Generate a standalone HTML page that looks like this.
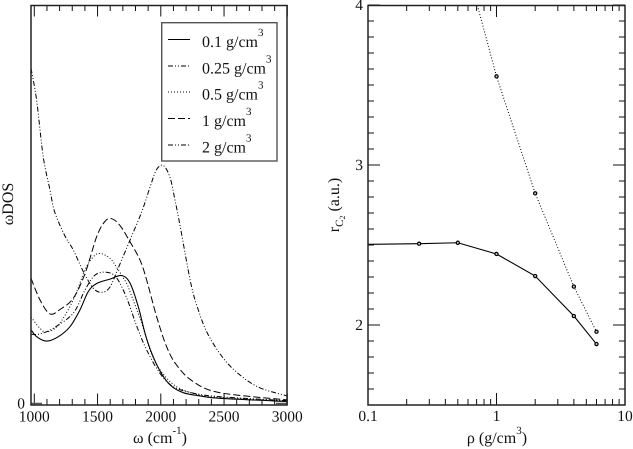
<!DOCTYPE html>
<html lang="en">
<head>
<meta charset="utf-8">
<title>Vibrational density of states and C2 bond length versus density</title>
<style>
  html, body { margin: 0; padding: 0; background: #fff; }
  svg { display: block; }
  text { font-family: "Liberation Serif", serif; fill: #111; text-rendering: geometricPrecision; }
</style>
</head>
<body>
<svg id="chart" xmlns="http://www.w3.org/2000/svg" width="633" height="449" viewBox="0 0 633 449">
  <defs>
    <clipPath id="clip-left"><rect x="31" y="5" width="256" height="400"/></clipPath>
    <clipPath id="clip-right"><rect x="368" y="5" width="257" height="400"/></clipPath>
  </defs>
  <g id="left-panel"></g>
  <g id="right-panel"></g>

  <text transform="translate(13 204) rotate(-90)" text-anchor="middle" font-size="16">ωDOS</text>
  <text x="160" y="443" text-anchor="middle" font-size="16">ω (cm<tspan font-size="11" dy="-9">-1</tspan><tspan dy="9">)</tspan></text>
  <text transform="translate(339 205) rotate(-90)" text-anchor="middle" font-size="16">r<tspan font-size="11" dy="4">C</tspan><tspan font-size="8" dy="2">2</tspan><tspan dy="-6"> (a.u.)</tspan></text>
  <text x="497" y="443" text-anchor="middle" font-size="16">ρ (g/cm<tspan font-size="11" dy="-9">3</tspan><tspan dy="9">)</tspan></text>

  <g id="legend">
    <rect x="161.7" y="22.7" width="115.3" height="138.3" fill="#fff" stroke="#555" stroke-width="1.4"/>
  </g>
</svg>

<script>
// ---- Left panel data: omega axis and DOS series (arbitrary units) ----
const dosLabels = ['0.1 g/cm', '0.25 g/cm', '0.5 g/cm', '1 g/cm', '2 g/cm'];
const dosOmega01 = [966, 1019, 1098, 1190, 1282, 1361, 1427, 1493, 1598, 1691, 1757, 1822, 1875, 1928, 1996, 2075, 2178, 2310, 2468, 3000];
const dosValue01 = [18.8, 16.7, 15.6, 16.7, 19.2, 23.4, 28, 30, 31.1, 32, 30.1, 24.2, 17.6, 12.6, 8, 4.6, 2.7, 1.9, 1.3, 0.5];
const dosOmega025 = [974, 1045, 1150, 1308, 1401, 1480, 1572, 1651, 1730, 1809, 1888, 1994, 2099, 2255, 2468, 3000];
const dosValue025 = [17.3, 17.4, 18.8, 22.6, 28.4, 32.1, 32.8, 31.4, 26.4, 19.4, 13.4, 7.5, 4.2, 2.6, 1.7, 0.7];
const dosOmega05 = [974, 1045, 1098, 1190, 1308, 1401, 1467, 1520, 1598, 1664, 1730, 1757, 1849, 1915, 1994, 2125, 2310, 2468, 3000];
const dosValue05 = [21.6, 18.8, 17.9, 19.6, 25.9, 33.4, 36.7, 37.5, 36.3, 33.4, 30, 27.9, 20.1, 13.4, 8.4, 4.2, 2.1, 1.5, 0.6];
const dosOmega1 = [974, 1045, 1124, 1203, 1308, 1401, 1493, 1558, 1612, 1680, 1757, 1835, 1888, 1967, 2046, 2125, 2255, 2468, 3000];
const dosValue1 = [31.3, 25.9, 22.4, 23.5, 26.3, 32.5, 41.7, 45.5, 46.2, 44.4, 40.4, 35.9, 30.9, 21.7, 14.2, 9.6, 5.5, 2.7, 0.9];
const dosOmega2 = [974, 1018, 1071, 1124, 1160, 1239, 1308, 1387, 1467, 1533, 1598, 1664, 1757, 1849, 1913, 1965, 2020, 2073, 2112, 2152, 2205, 2244, 2284, 2363, 2492, 2627, 2785, 3000];
const dosValue2 = [83.8, 75.9, 61.6, 53.4, 48, 42.1, 38.4, 33, 28.8, 27.8, 29.1, 33.9, 40.9, 47.9, 53.9, 58.4, 59.5, 56.5, 50.9, 44.5, 35.3, 29.1, 24.6, 17.9, 11.4, 7.1, 3.9, 1.9];
const dosXTicks = [1000, 1500, 2000, 2500, 3000];
const dosYTicks = [0];

// ---- Right panel data ----
const rhoSolid = [0.1, 0.25, 0.5, 1, 2, 4, 6];
const rcSolid = [2.504, 2.508, 2.514, 2.444, 2.306, 2.056, 1.881];
const rhoDotted = [0.5, 1, 2, 4, 6];
const rcDotted = [4.45, 3.554, 2.823, 2.24, 1.958];
const rhoXTicks = [0.1, 1, 10];
const rcYTicks = [2, 3, 4];

const SVG_NS = 'http://www.w3.org/2000/svg';
const DASH_SOLID = '';
const DASH_DDOT = '5 2 1 2 1 2';
const DASH_DOT = '1 2';
const DASH_LONG = '7 3';

// Axis functions
function xDos(w) { return 34.3 + (w - 1000) * 253 / 2000; }
function yDos(v) { return 403.5 - v * 4; }
function xRho(r) { return 368 + (Math.log10(r) + 1) * 128.5; }
function yRc(v) { return 5 + (4 - v) * 160; }

function make(parent, tag, attrs) {
  const el = document.createElementNS(SVG_NS, tag);
  for (const k in attrs) el.setAttribute(k, attrs[k]);
  parent.appendChild(el);
  return el;
}

// Smooth path through points (Catmull-Rom)
function smoothPath(pts) {
  let d = 'M' + pts[0][0].toFixed(2) + ' ' + pts[0][1].toFixed(2);
  for (let i = 0; i < pts.length - 1; i++) {
    const p0 = pts[Math.max(i - 1, 0)];
    const p1 = pts[i];
    const p2 = pts[i + 1];
    const p3 = pts[Math.min(i + 2, pts.length - 1)];
    const c1x = p1[0] + (p2[0] - p0[0]) / 6;
    const c1y = p1[1] + (p2[1] - p0[1]) / 6;
    const c2x = p2[0] - (p3[0] - p1[0]) / 6;
    const c2y = p2[1] - (p3[1] - p1[1]) / 6;
    d += 'C' + c1x.toFixed(2) + ' ' + c1y.toFixed(2) + ' ' + c2x.toFixed(2) + ' ' + c2y.toFixed(2) + ' ' + p2[0].toFixed(2) + ' ' + p2[1].toFixed(2);
  }
  return d;
}

// ---- Left panel ----
const left = document.getElementById('left-panel');
const dosSeries = [
  { xs: dosOmega2, ys: dosValue2, dash: DASH_DDOT, w: 1, name: 'dos-curve-2' },
  { xs: dosOmega1, ys: dosValue1, dash: DASH_LONG, w: 1, name: 'dos-curve-1' },
  { xs: dosOmega05, ys: dosValue05, dash: DASH_DOT, w: 1, name: 'dos-curve-0-5' },
  { xs: dosOmega025, ys: dosValue025, dash: DASH_DDOT, w: 1, name: 'dos-curve-0-25' },
  { xs: dosOmega01, ys: dosValue01, dash: DASH_SOLID, w: 1.1, name: 'dos-curve-0-1' }
];
const leftCurves = make(left, 'g', { 'clip-path': 'url(#clip-left)' });


dosSeries.forEach(function (s) {
  const pts = s.xs.map(function (x, i) { return [xDos(x), yDos(s.ys[i])]; });
  const p = make(leftCurves, 'path', { d: smoothPath(pts), fill: 'none', stroke: '#000', 'stroke-width': s.w });
  if (s.dash) p.setAttribute('stroke-dasharray', s.dash);
  
  
});

const leftTicks = make(left, 'g', { stroke: '#111', 'stroke-width': 1 });


for (let w = 1000; w <= 3000; w += 100) {
  const major = (w % 500 === 0);
  const len = major ? 11.5 : 6;
  const x = xDos(w);
  make(leftTicks, 'line', { x1: x, x2: x, y1: 5, y2: 5 + len });
  make(leftTicks, 'line', { x1: x, x2: x, y1: 405, y2: 405 - len });
}
dosYTicks.forEach(function (v) {
  const y = yDos(v);
  make(leftTicks, 'line', { x1: 31, x2: 42, y1: y, y2: y, stroke: '#555', 'stroke-width': 1.5 });
  make(leftTicks, 'line', { x1: 287, x2: 276, y1: y, y2: y, stroke: '#555', 'stroke-width': 1.5 });
  const t = make(left, 'text', { x: 25, y: y + 5, 'text-anchor': 'end', 'font-size': 15.5 });
  t.textContent = String(v);
  
  
});
dosXTicks.forEach(function (w) {
  const t = make(left, 'text', { x: xDos(w), y: 421.5, 'text-anchor': 'middle', 'font-size': 15.5 });
  t.textContent = String(w);
  
  
});
const leftFrame = make(left, 'rect', { x: 31, y: 5.5, width: 256, height: 399.5, fill: 'none', stroke: '#222', 'stroke-width': 1.5 });



// ---- Right panel ----
const right = document.getElementById('right-panel');
const rightMarks = make(right, 'g', { 'clip-path': 'url(#clip-right)' });



const solidLine = make(rightMarks, 'polyline', {
  points: rhoSolid.map(function (r, i) { return xRho(r).toFixed(2) + ',' + yRc(rcSolid[i]).toFixed(2); }).join(' '),
  fill: 'none', stroke: '#000', 'stroke-width': 1.1
});


const dottedLine = make(rightMarks, 'polyline', {
  points: rhoDotted.map(function (r, i) { return xRho(r).toFixed(2) + ',' + yRc(rcDotted[i]).toFixed(2); }).join(' '),
  fill: 'none', stroke: '#000', 'stroke-width': 1, 'stroke-dasharray': '1 2'
});



rhoSolid.forEach(function (r, i) {
  if (r <= 0.1) return;
  const c = make(rightMarks, 'circle', { cx: xRho(r), cy: yRc(rcSolid[i]), r: 1.6, fill: '#ccc', stroke: '#000', 'stroke-width': 1.2 });
  
  
});
rhoDotted.forEach(function (r, i) {
  const c = make(rightMarks, 'circle', { cx: xRho(r), cy: yRc(rcDotted[i]), r: 1.6, fill: '#ccc', stroke: '#000', 'stroke-width': 1.2 });
  
  
});

const rightTicks = make(right, 'g', { stroke: '#111', 'stroke-width': 1 });


[0.1, 1].forEach(function (decade) {
  for (let m = 1; m <= 9; m++) {
    const x = xRho(decade * m);
    const len = m === 1 ? 12 : 6;
    make(rightTicks, 'line', { x1: x, x2: x, y1: 5, y2: 5 + len });
    make(rightTicks, 'line', { x1: x, x2: x, y1: 405, y2: 405 - len });
  }
});
for (let k = 15; k <= 40; k++) {
  const y = yRc(k / 10);
  const len = k % 10 === 0 ? 12 : 6;
  make(rightTicks, 'line', { x1: 368, x2: 368 + len, y1: y, y2: y });
  make(rightTicks, 'line', { x1: 625, x2: 625 - len, y1: y, y2: y });
}
rhoXTicks.forEach(function (r) {
  const t = make(right, 'text', { x: xRho(r), y: 421, 'text-anchor': 'middle', 'font-size': 15.5 });
  t.textContent = String(r);
  
  
});
rcYTicks.forEach(function (v) {
  const t = make(right, 'text', { x: 363, y: yRc(v) + 5, 'text-anchor': 'end', 'font-size': 15.5 });
  t.textContent = String(v);
  
  
});
const rightFrame = make(right, 'rect', { x: 368, y: 5.5, width: 257, height: 399.5, fill: 'none', stroke: '#222', 'stroke-width': 1.5 });



// ---- Legend ----
const legend = document.getElementById('legend');
const legendDash = [DASH_SOLID, DASH_DDOT, DASH_DOT, DASH_LONG, DASH_DDOT];
const legendY = [39.5, 66, 92, 118.5, 145];
dosLabels.forEach(function (label, i) {
  const ln = make(legend, 'line', { x1: 168, x2: 190, y1: legendY[i], y2: legendY[i], stroke: '#000', 'stroke-width': 1 });
  if (legendDash[i]) ln.setAttribute('stroke-dasharray', legendDash[i]);
  
  
  const t = make(legend, 'text', { x: 202, y: legendY[i] + 7.5, 'font-size': 16 });
  t.textContent = label;
  
  
  const sup = make(t, 'tspan', { 'font-size': 11, dy: -11 });
  sup.textContent = '3';
});
</script>
</body>
</html>
